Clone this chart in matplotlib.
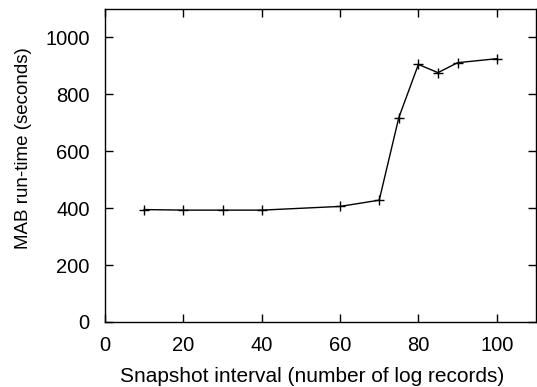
import matplotlib
matplotlib.use("Agg")
import matplotlib.pyplot as plt

# snapshot interval vs MAB run-time
interval = [10, 20, 30, 40, 60, 70, 75, 80, 85, 90, 100]
runtime = [395, 393, 393, 393, 406, 428, 718, 905, 876, 911, 925]

plt.rcParams['font.family'] = ['Liberation Sans', 'DejaVu Sans']

fig = plt.figure(figsize=(5.37, 3.87), dpi=100)
ax = fig.add_axes([0.1955, 0.168, 0.8025, 0.809])

ax.plot(interval, runtime, color='black', linewidth=1.0, marker='+',
        markersize=7, markeredgewidth=1.0)

ax.set_xlim(0, 110)
ax.set_ylim(0, 1100)
ax.set_xticks([0, 20, 40, 60, 80, 100])
ax.set_yticks([0, 200, 400, 600, 800, 1000])
ax.tick_params(direction='in', length=6, width=1, top=True, right=True,
               labelsize=14.5)
ax.tick_params(axis='x', pad=10)
ax.tick_params(axis='y', pad=11)
for s in ax.spines.values():
    s.set_linewidth(1)

ax.set_xlabel('Snapshot interval (number of log records)', fontsize=15)
ax.set_ylabel('MAB run-time (seconds)', fontsize=13.5)
ax.xaxis.set_label_coords(0.48, -0.145)
ax.yaxis.set_label_coords(-0.17, 0.555)

fig.savefig('out.png', dpi=100)
